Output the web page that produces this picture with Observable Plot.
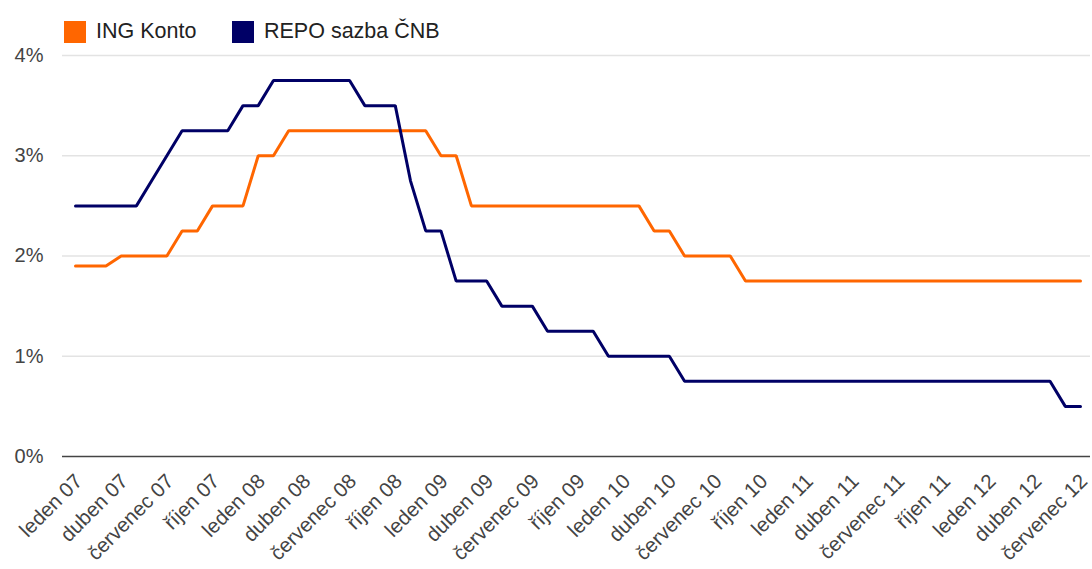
<!DOCTYPE html>
<html>
<head>
<meta charset="utf-8">
<script src="https://cdn.jsdelivr.net/npm/d3@7"></script>
<script src="https://cdn.jsdelivr.net/npm/@observablehq/plot@0.6"></script>
<style>
  html, body { margin: 0; padding: 0; background: #fff; }
  body { width: 1092px; height: 569px; overflow: hidden; font-family: "Liberation Sans", Arial, sans-serif; }
  #legend { height: 44px; position: relative; }
  .item { position: absolute; top: 19px; display: flex; align-items: center; font-size: 21.5px; color: #222; }
  .sw { width: 22px; height: 22px; margin-right: 10px; }
</style>
</head>
<body>
<div id="legend"></div>
<div id="chart"></div>
<script>
// Months Jan 2007 .. Jul 2012 (index 0..66)
const months = d3.range(0, 67);
const ingKonto = [
  1.9, 1.9, 1.9,
  2.0, 2.0, 2.0, 2.0,
  2.25, 2.25,
  2.5, 2.5, 2.5,
  3.0, 3.0,
  3.25, 3.25, 3.25, 3.25, 3.25, 3.25, 3.25, 3.25, 3.25, 3.25,
  3.0, 3.0,
  2.5, 2.5, 2.5, 2.5, 2.5, 2.5, 2.5, 2.5, 2.5, 2.5, 2.5, 2.5,
  2.25, 2.25,
  2.0, 2.0, 2.0, 2.0,
  1.75, 1.75, 1.75, 1.75, 1.75, 1.75, 1.75, 1.75, 1.75, 1.75, 1.75, 1.75,
  1.75, 1.75, 1.75, 1.75, 1.75, 1.75, 1.75, 1.75, 1.75, 1.75, 1.75
];
const repoCnb = [
  2.5, 2.5, 2.5, 2.5, 2.5,
  2.75, 3.0,
  3.25, 3.25, 3.25, 3.25,
  3.5, 3.5,
  3.75, 3.75, 3.75, 3.75, 3.75, 3.75,
  3.5, 3.5, 3.5,
  2.75,
  2.25, 2.25,
  1.75, 1.75, 1.75,
  1.5, 1.5, 1.5,
  1.25, 1.25, 1.25, 1.25,
  1.0, 1.0, 1.0, 1.0, 1.0,
  0.75, 0.75, 0.75, 0.75, 0.75, 0.75, 0.75, 0.75, 0.75, 0.75, 0.75, 0.75, 0.75,
  0.75, 0.75, 0.75, 0.75, 0.75, 0.75, 0.75, 0.75, 0.75, 0.75, 0.75, 0.75,
  0.5, 0.5
];
const seriesNames = ["ING Konto", "REPO sazba ČNB"];
const seriesColors = ["#ff6600", "#000066"];
const tickMonths = d3.range(0, 67, 3);
const tickLabels = [
  "leden 07", "duben 07", "červenec 07", "říjen 07",
  "leden 08", "duben 08", "červenec 08", "říjen 08",
  "leden 09", "duben 09", "červenec 09", "říjen 09",
  "leden 10", "duben 10", "červenec 10", "říjen 10",
  "leden 11", "duben 11", "červenec 11", "říjen 11",
  "leden 12", "duben 12", "červenec 12"
];
const yTicks = [0, 1, 2, 3, 4];

// legend
const legend = document.getElementById("legend");
const legendX = [64, 232];
seriesNames.forEach((name, i) => {
  const it = document.createElement("div");
  it.className = "item";
  it.style.left = legendX[i] + "px";
  it.innerHTML = `<div class="sw" style="background:${seriesColors[i]}"></div><span>${name}</span>`;
  legend.appendChild(it);
});

const rows = [];
months.forEach((m, i) => {
  rows.push({m, v: ingKonto[i], s: seriesNames[0]});
  rows.push({m, v: repoCnb[i], s: seriesNames[1]});
});

const chart = Plot.plot({
  width: 1092,
  height: 525,
  marginLeft: 75,
  marginRight: 12,
  marginTop: 11,
  marginBottom: 113,
  style: {fontFamily: "Liberation Sans, Arial, sans-serif", fontSize: "20px", color: "#444", background: "#fff"},
  x: {domain: [0, 66], type: "linear", axis: null},
  y: {domain: [0, 4]},
  color: {domain: seriesNames, range: seriesColors},
  marks: [
    Plot.ruleY(yTicks.filter(d => d > 0), {stroke: "#e3e3e3", strokeWidth: 1.3, insetLeft: -13, insetRight: -10}),
    Plot.ruleY([0], {stroke: "#444", strokeWidth: 1.5, insetLeft: -13, insetRight: -10}),
    Plot.axisY({ticks: yTicks, tickFormat: d => d + "%", tickSize: 0, tickPadding: 32, fontSize: 20, label: null}),
    Plot.text(tickMonths, {
      x: d => d,
      text: d => tickLabels[Math.round(d / 3)],
      frameAnchor: "bottom",
      textAnchor: "end",
      lineAnchor: "bottom",
      rotate: -45,
      dy: 26,
      dx: 8,
      fontSize: 20.5,
      fill: "#444"
    }),
    Plot.line(rows, {x: "m", y: "v", z: "s", stroke: "s", strokeWidth: 3, strokeLinejoin: "miter", curve: "linear"})
  ]
});
document.getElementById("chart").appendChild(chart);
</script>
</body>
</html>
